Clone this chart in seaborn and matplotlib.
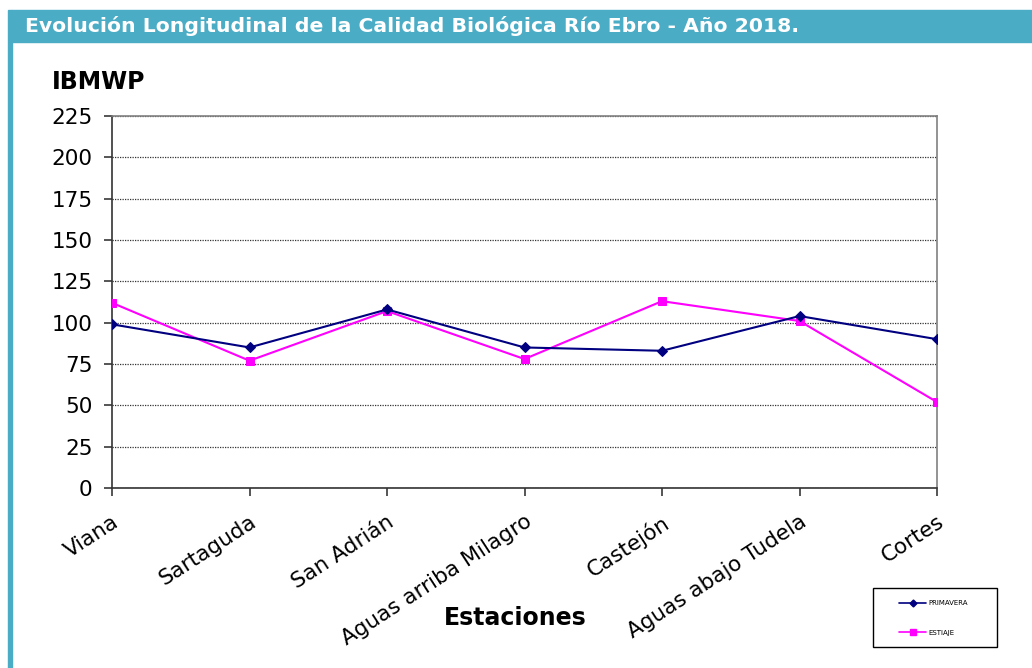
import matplotlib
matplotlib.use("Agg")
import matplotlib.pyplot as plt
import seaborn as sns
import pandas as pd
from matplotlib.patches import Rectangle
from matplotlib.lines import Line2D

estaciones = ["Viana", "Sartaguda", "San Adrián", "Aguas arriba Milagro",
              "Castejón", "Aguas abajo Tudela", "Cortes"]
primavera = [99, 85, 108, 85, 83, 104, 90]
estiaje = [112, 77, 107, 78, 113, 101, 52]
yticks = [0, 25, 50, 75, 100, 125, 150, 175, 200, 225]

title = "Evolución Longitudinal de la Calidad Biológica Río Ebro - Año 2018."

sns.set_theme(style="white")
plt.rcParams["font.family"] = ["DejaVu Sans"]
plt.rcParams["text.color"] = "black"
plt.rcParams["xtick.color"] = "black"
plt.rcParams["ytick.color"] = "black"

W, H = 1032, 668
fig = plt.figure(figsize=(W / 100, H / 100), dpi=100)
teal = "#4BACC6"

# banner + left border
fig.patches.append(Rectangle((12 / W, 1 - 42 / H), 1 - 12 / W, 32 / H,
                             transform=fig.transFigure, color=teal, zorder=0))
fig.patches.append(Rectangle((8 / W, 0), 4 / W, 1 - 10 / H,
                             transform=fig.transFigure, color=teal, zorder=0))
fig.text(25 / W, 1 - 26 / H, title, color="white", fontsize=14.7,
         fontweight="bold", va="center", ha="left")

ax = fig.add_axes([112 / W, 1 - 488 / H, (937 - 112) / W, (488 - 116) / H])

df = pd.DataFrame({"x": list(range(len(estaciones))) * 2,
                   "val": primavera + estiaje,
                   "serie": ["PRIMAVERA"] * len(estaciones) + ["ESTIAJE"] * len(estaciones)})

sns.lineplot(data=df[df.serie == "PRIMAVERA"], x="x", y="val", ax=ax,
             color="#000080", marker="D", markersize=5, linewidth=1.5,
             markeredgecolor="#000080", legend=False, zorder=4)
sns.lineplot(data=df[df.serie == "ESTIAJE"], x="x", y="val", ax=ax,
             color="#FF00FF", marker="s", markersize=6, linewidth=1.5,
             markeredgecolor="#FF00FF", legend=False, zorder=3)

ax.set_xlim(0, len(estaciones) - 1)
ax.set_ylim(0, 225)
ax.set_yticks(yticks)
ax.set_yticklabels([str(v) for v in yticks], fontsize=15.5)
ax.set_xticks(range(len(estaciones)))
ax.set_xticklabels(estaciones, fontsize=15.5, rotation=33, ha="right",
                   rotation_mode="anchor")
ax.tick_params(axis="x", which="major", direction="out", length=6,
               color="#404040", pad=11, bottom=True)
ax.tick_params(axis="y", which="major", direction="out", length=6,
               color="#404040", pad=8, left=True)

ax.yaxis.grid(True, linestyle=(0, (1, 1)), color="#333333", linewidth=0.9)
ax.set_axisbelow(True)
for side in ["top", "right"]:
    ax.spines[side].set_color("#808080")
    ax.spines[side].set_linewidth(1.2)
for side in ["left", "bottom"]:
    ax.spines[side].set_color("#333333")
    ax.spines[side].set_linewidth(1.2)

ax.set_xlabel("")
ax.set_ylabel("")
fig.text(52 / W, 1 - 82 / H, "IBMWP", fontsize=17, fontweight="bold",
         va="center", ha="left")
fig.text(515 / W, 1 - 618 / H, "Estaciones", fontsize=17, fontweight="bold",
         va="center", ha="center")

# legend box
fig.patches.append(Rectangle((873 / W, 1 - 647 / H), 124 / W, 59 / H,
                             transform=fig.transFigure, facecolor="white",
                             edgecolor="black", linewidth=1.0, zorder=5))
handles = [Line2D([0], [0], color="#000080", marker="D", markersize=3.5, linewidth=1.2),
           Line2D([0], [0], color="#FF00FF", marker="s", markersize=5, linewidth=1.2)]
leg = fig.legend(handles, ["PRIMAVERA", "ESTIAJE"], loc="center left",
                 bbox_to_anchor=(899 / W, 1 - 618 / H),
                 fontsize=5, frameon=False, labelspacing=3.4,
                 handlelength=3.9, handletextpad=0.3,
                 borderpad=0, borderaxespad=0)
leg.set_zorder(6)

fig.savefig("out.png", dpi=100)
